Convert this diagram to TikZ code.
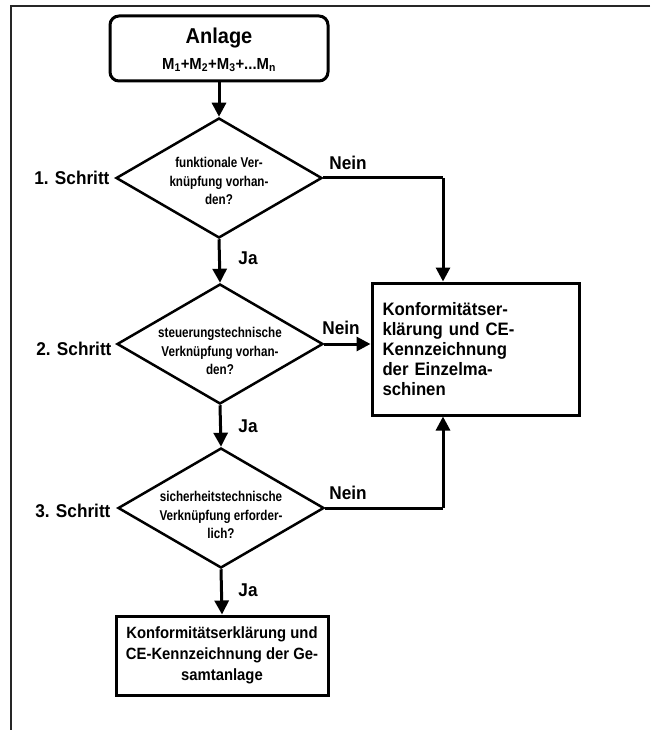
\documentclass[tikz,border=0pt]{standalone}
\usepackage{fontspec}
\setmainfont{Liberation Sans}
\newfontfamily\fdia{Liberation Sans}[FakeStretch=0.82]
\newfontfamily\fbot{Liberation Sans}[FakeStretch=0.91]
\newfontfamily\flbl{Liberation Sans}[FakeStretch=0.93]
\usetikzlibrary{shapes.geometric,arrows.meta}
\begin{document}
\begin{tikzpicture}[x=1pt,y=-1pt,
  dia/.style={draw,diamond,line width=2.5pt,minimum width=206pt,minimum height=120pt,inner sep=0pt,line join=miter},
  dtext/.style={align=center,font=\fdia\bfseries\fontsize{14.2}{18.5}\selectfont},
  boxk/.style={draw,line width=3pt,inner sep=0pt},
  arr/.style={line width=3pt,-{Triangle[length=14pt,width=14pt]}},
  ln/.style={line width=3pt},
  lbl/.style={font=\flbl\bfseries\fontsize{18.5}{20}\selectfont},
  frame/.style={line width=1.5pt,draw=black!85}]
\useasboundingbox (0,0) rectangle (650,730);
\draw[frame] (650,6) -- (11,6) -- (11,730);
% start
\node[boxk,rounded corners=9pt,minimum width=218pt,minimum height=65pt,align=center,font=\flbl\bfseries\fontsize{21.5}{26}\selectfont,text depth=0pt] (a) at (219,48.5)
  {Anlage\\{\fontsize{16}{18}\selectfont M\textsubscript{1}+M\textsubscript{2}+M\textsubscript{3}+...M\textsubscript{n}}};
% diamonds
\node[dia] (d1) at (219,178) {};
\node[dtext] at ([yshift=-3pt]d1.center) {funktionale Ver-\\knüpfung vorhan-\\den?};
\node[dia] (d2) at (220,344) {};
\node[dtext] at ([yshift=-7pt]d2.center) {steuerungstechnische\\Verknüpfung vorhan-\\den?};
\node[dia] (d3) at (221,508) {};
\node[dtext] at ([yshift=-7pt]d3.center) {sicherheitstechnische\\Verknüpfung erforder-\\lich?};
% boxes
\node[boxk,minimum width=207pt,minimum height=132pt,text width=186pt,align=left,font=\flbl\bfseries\fontsize{18}{20}\selectfont] (k) at (475.5,349)
  {Konformitätser-\\klärung und CE-\\Kennzeichnung\\der Einzelma-\\schinen};
\node[boxk,minimum width=212pt,minimum height=79pt,align=center,font=\fbot\bfseries\fontsize{16.3}{21}\selectfont] (g) at (222,655.5)
  {Konformitätserklärung und\\CE-Kennzeichnung der Ge-\\samtanlage};
% step labels
\node[lbl,anchor=east] (s1) at (113,178) {1. Schritt};
\node[lbl,anchor=east] (s2) at (115,349) {2. Schritt};
\node[lbl,anchor=east] (s3) at (114,511) {3. Schritt};
% connectors
\draw[arr] (a.south) -- (d1.north);
\draw[arr] (d1.south) -- (d2.north);
\draw[arr] (d2.south) -- (d3.north);
\draw[arr] (d3.south) -- (g.north);
\coordinate (c1) at (443,178);
\coordinate (c3) at (443,508);
\draw[ln] (d1.east) -- (c1);
\draw[arr] (c1) -- (c1 |- k.north);
\draw[arr] (d2.east) -- (d2.east -| k.west);
\draw[ln] (d3.east) -- (c3);
\draw[arr] (c3) -- (c3 |- k.south);
% yes/no labels
\node[lbl] (n1) at (348,163) {Nein};
\node[lbl] (n2) at (341,328) {Nein};
\node[lbl] (n3) at (348,493) {Nein};
\node[lbl] (j1) at (248,258) {Ja};
\node[lbl] (j2) at (248,426) {Ja};
\node[lbl] (j3) at (248,590) {Ja};
\end{tikzpicture}
\end{document}
